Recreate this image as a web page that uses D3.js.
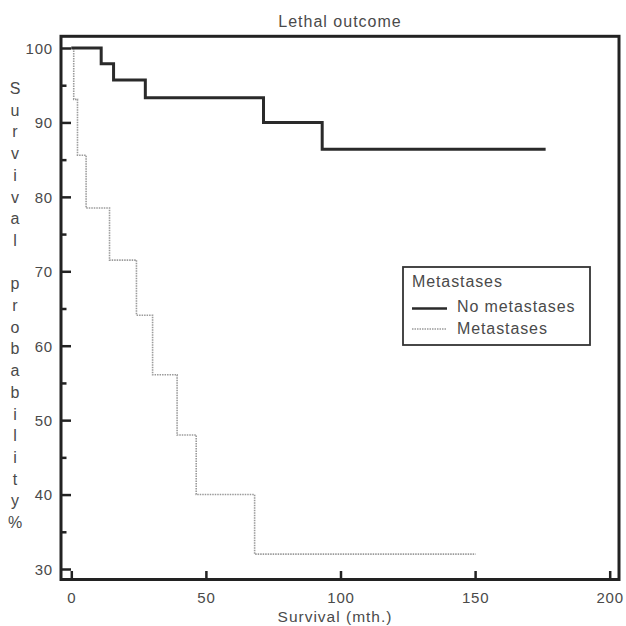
<!DOCTYPE html>
<html>
<head>
<meta charset="utf-8">
<script src="https://cdn.jsdelivr.net/npm/d3@7"></script>
<style>
  html, body { margin: 0; padding: 0; background: #fff; }
  svg { display: block; }
  text { font-family: "Liberation Sans", Arial, sans-serif; fill: #4a4a4a; }
</style>
</head>
<body>
<svg id="chart" width="626" height="626"></svg>
<script>
// ---- data ----
const noMetTime = [0, 11.1, 15.7, 27.5, 71.4, 93.2, 176.2];
const noMetSurv = [100, 97.9, 95.7, 93.3, 90.0, 86.4, 86.4];
const metTime   = [0, 0.9, 2.3, 5.5, 14.2, 24.2, 30.2, 39.3, 46.4, 68.1, 150.2];
const metSurv   = [100, 93.1, 85.6, 78.5, 71.5, 64.1, 56.1, 48.0, 40.0, 32.0, 32.0];
const xTicks = [0, 50, 100, 150, 200];
const yTicks = [30, 40, 50, 60, 70, 80, 90, 100];
const yMinorTicks = [35, 45, 55, 65, 75, 85, 95];
const seriesNames = ["No metastases", "Metastases"];
const legendTitle = "Metastases";
const chartTitle = "Lethal outcome";
const xLabel = "Survival (mth.)";
const yLabel = "Survival probability%";

// ---- layout ----
const svg = d3.select("#chart");
const frame = { left: 61, right: 619, top: 36.3, bottom: 579.5 };
const x = d3.scaleLinear().domain([0, 200]).range([71.3, 609.7]);
const y = d3.scaleLinear().domain([30, 100]).range([569, 48]);

// title
svg.append("text")
  .attr("x", 340).attr("y", 27)
  .attr("text-anchor", "middle")
  .style("font-size", "16px").style("letter-spacing", "1px")
  .text(chartTitle);

// y ticks (inward)
const yAxis = svg.append("g")
  .attr("transform", `translate(${frame.left},0)`)
  .call(d3.axisLeft(y).tickValues(yTicks).tickSizeInner(-10).tickSizeOuter(0).tickPadding(8));
yAxis.select(".domain").remove();
yAxis.selectAll("line").attr("stroke", "#222").attr("stroke-width", 2.5);
yAxis.selectAll("text").style("font-size", "15px").style("letter-spacing", "0.8px")
  .attr("fill", "#4a4a4a").attr("font-family", null).attr("dy", "0.36em");

const yMinor = svg.append("g")
  .attr("transform", `translate(${frame.left},0)`)
  .call(d3.axisLeft(y).tickValues(yMinorTicks).tickSizeInner(-5.5).tickSizeOuter(0).tickFormat(""));
yMinor.select(".domain").remove();
yMinor.selectAll("line").attr("stroke", "#222").attr("stroke-width", 2.5);

// x ticks (inward)
const xAxis = svg.append("g")
  .attr("transform", `translate(0,${frame.bottom})`)
  .call(d3.axisBottom(x).tickValues(xTicks).tickSizeInner(-8.5).tickSizeOuter(0).tickPadding(12.5));
xAxis.select(".domain").remove();
xAxis.selectAll("line").attr("stroke", "#222").attr("stroke-width", 2.5);
xAxis.selectAll("text").style("font-size", "15px").style("letter-spacing", "0.8px")
  .attr("fill", "#4a4a4a").attr("font-family", null);

// frame
svg.append("rect")
  .attr("x", frame.left).attr("y", frame.top)
  .attr("width", frame.right - frame.left).attr("height", frame.bottom - frame.top)
  .attr("fill", "none").attr("stroke", "#222").attr("stroke-width", 3);

// x label
svg.append("text")
  .attr("x", 335).attr("y", 622)
  .attr("text-anchor", "middle")
  .style("font-size", "15.5px").style("letter-spacing", "1px")
  .text(xLabel);

// y label, stacked letters
svg.append("g").selectAll("text")
  .data(yLabel.split(""))
  .join("text")
  .attr("x", 15)
  .attr("y", (d, i) => 94 + i * 21.7)
  .attr("text-anchor", "middle")
  .style("font-size", "16px")
  .text(d => d === " " ? "" : d);

// curves
const line = d3.line()
  .x(d => x(d[0])).y(d => y(d[1]))
  .curve(d3.curveStepAfter);

svg.append("path")
  .datum(metTime.map((t, i) => [t, metSurv[i]]))
  .attr("d", line)
  .attr("fill", "none").attr("stroke", "#9a9a9a")
  .attr("stroke-width", 1.6).attr("stroke-dasharray", "1.5,1");

svg.append("path")
  .datum(noMetTime.map((t, i) => [t, noMetSurv[i]]))
  .attr("d", line)
  .attr("fill", "none").attr("stroke", "#2a2a2a")
  .attr("stroke-width", 3).attr("stroke-linejoin", "miter");

// legend
const lg = svg.append("g");
lg.append("rect")
  .attr("x", 403).attr("y", 267).attr("width", 187).attr("height", 78)
  .attr("fill", "#fff").attr("stroke", "#333").attr("stroke-width", 1.8);
lg.append("text").attr("x", 412).attr("y", 287)
  .style("font-size", "16px").style("letter-spacing", "0.9px").text(legendTitle);
const legendStyles = [
  { stroke: "#2a2a2a", width: 2.5, dash: null, ly: 308.5, ty: 312 },
  { stroke: "#9a9a9a", width: 1.6, dash: "1.5,1", ly: 329, ty: 334 }
];
seriesNames.forEach((name, i) => {
  const s = legendStyles[i];
  lg.append("line")
    .attr("x1", 412).attr("x2", 447).attr("y1", s.ly).attr("y2", s.ly)
    .attr("stroke", s.stroke).attr("stroke-width", s.width)
    .attr("stroke-dasharray", s.dash);
  lg.append("text").attr("x", 457).attr("y", s.ty)
    .style("font-size", "16px").style("letter-spacing", "0.9px").text(name);
});
</script>
</body>
</html>
